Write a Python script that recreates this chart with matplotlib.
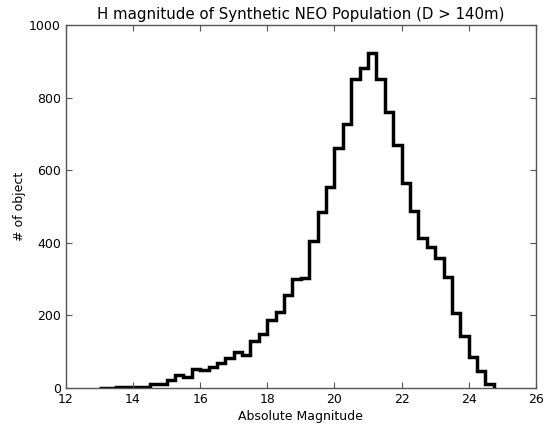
import numpy as np
import matplotlib
matplotlib.use("Agg")
import matplotlib.pyplot as plt

# histogram of H magnitude, bin width 0.25 starting at 13.0
bin_start = 13.0
bin_width = 0.25
counts = [1, 1, 2, 2, 4, 4, 10, 10, 23, 37, 29, 51, 49, 57, 70, 83,
          99, 91, 129, 150, 187, 210, 256, 299, 302, 405, 486, 553,
          662, 726, 850, 882, 924, 850, 760, 669, 566, 488, 412, 388,
          357, 307, 206, 143, 84, 48, 11]

edges = bin_start + bin_width * np.arange(len(counts) + 1)

plt.rcParams.update({'font.size': 9, 'xtick.direction': 'in', 'ytick.direction': 'in'})
fig = plt.figure(figsize=(5.53, 4.24), dpi=100)
ax = fig.add_axes([0.119, 0.085, 0.850, 0.856])

ax.stairs(counts, edges, color='black', linewidth=2.5)

ax.set_xlim(12, 26)
ax.set_ylim(0, 1000)
ax.set_xticks(range(12, 27, 2))
ax.set_yticks(range(0, 1001, 200))
ax.tick_params(top=True, right=True, length=4, width=0.8, color='#555555', labelsize=9)
for s in ax.spines.values():
    s.set_color('#555555')
    s.set_linewidth(1.0)

ax.set_title("H magnitude of Synthetic NEO Population (D > 140m)", fontsize=10.8, pad=4)
ax.set_xlabel("Absolute Magnitude", fontsize=9, labelpad=3)
ax.set_ylabel("# of object", fontsize=9, labelpad=2)

fig.savefig("out.png", dpi=100)
